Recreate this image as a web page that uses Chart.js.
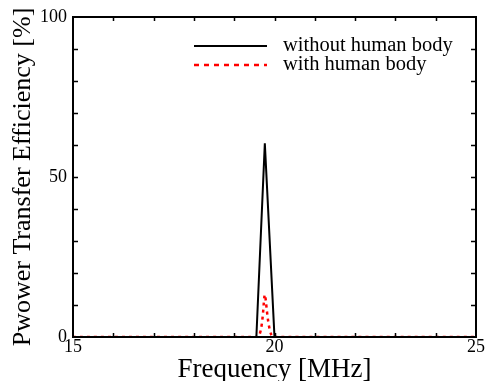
<!DOCTYPE html>
<html>
<head>
<meta charset="utf-8">
<script src="https://cdn.jsdelivr.net/npm/chart.js@4.4.1/dist/chart.umd.min.js"></script>
<style>
html,body{margin:0;padding:0;background:#fff;}
#wrap{width:486px;height:381px;position:relative;}
</style>
</head>
<body>
<div id="wrap"><canvas id="c" width="486" height="381"></canvas></div>
<script>
// Data
const freqWithout = [15, 19.55, 19.76, 20.0, 25];
const effWithout  = [0, 0, 60.5, 0, 0];
const freqWith    = [15, 19.58, 19.76, 19.97, 25];
const effWith     = [0, 0, 13.2, 0, 0];
const seriesLabels = ['without human body', 'with human body'];
const xLabeled = [15, 20, 25];
const yLabeled = [0, 50, 100];

const FONT = '"Liberation Serif", "Times New Roman", serif';

const toPts = (xs, ys) => xs.map((x, i) => ({x: x, y: ys[i]}));

const framePlugin = {
  id: 'frame',
  afterDatasetsDraw(chart) {
    const ctx = chart.ctx, a = chart.chartArea;
    const xs = chart.scales.x, ys = chart.scales.y;
    ctx.save();
    ctx.strokeStyle = '#000';
    ctx.lineWidth = 1.5;
    ctx.beginPath();
    for (let v = 16; v < 25; v++) {
      const px = Math.round(xs.getPixelForValue(v)) + 0.5;
      ctx.moveTo(px, a.bottom); ctx.lineTo(px, a.bottom - 4);
      ctx.moveTo(px, a.top); ctx.lineTo(px, a.top + 4);
    }
    for (let v = 10; v < 100; v += 10) {
      const py = Math.round(ys.getPixelForValue(v)) + 0.5;
      ctx.moveTo(a.left, py); ctx.lineTo(a.left + 5, py);
      ctx.moveTo(a.right, py); ctx.lineTo(a.right - 5, py);
    }
    ctx.stroke();
    ctx.lineWidth = 2;
    ctx.strokeRect(a.left, a.top, a.right - a.left, a.bottom - a.top);
    ctx.restore();
  },
  afterDraw(chart) {
    // legend inside plot, top right
    const ctx = chart.ctx;
    ctx.save();
    const x0 = 194, x1 = 267, tx = 283;
    const rows = [46, 65];
    chart.data.datasets.forEach((ds, i) => {
      ctx.strokeStyle = ds.borderColor;
      ctx.lineWidth = ds.borderWidth;
      ctx.setLineDash(i === 1 ? [5, 5] : []);
      ctx.beginPath();
      ctx.moveTo(x0, rows[i]); ctx.lineTo(x1, rows[i]);
      ctx.stroke();
      ctx.setLineDash([]);
      ctx.fillStyle = '#000';
      ctx.font = '20.5px ' + FONT;
      ctx.textBaseline = 'middle';
      ctx.fillText(ds.label, tx, rows[i]);
    });
    ctx.restore();
  }
};

new Chart(document.getElementById('c'), {
  type: 'line',
  data: {
    datasets: [
      {
        label: seriesLabels[0],
        data: toPts(freqWithout, effWithout),
        borderColor: '#000',
        borderWidth: 2,
        pointRadius: 0,
        tension: 0,
        fill: false
      },
      {
        label: seriesLabels[1],
        data: toPts(freqWith, effWith),
        borderColor: '#ff0000',
        borderWidth: 2.5,
        borderDash: [3, 4],
        pointRadius: 0,
        tension: 0.15,
        fill: false
      }
    ]
  },
  options: {
    responsive: false,
    animation: false,
    layout: {padding: {top: 17, right: 10, left: 0, bottom: 0}},
    plugins: {legend: {display: false}, tooltip: {enabled: false}},
    scales: {
      x: {
        type: 'linear',
        min: 15, max: 25,
        afterFit: s => { s.height = 44; },
        grid: {display: false, drawTicks: false},
        border: {display: false},
        ticks: {
          stepSize: 1, autoSkip: false, maxRotation: 0, padding: -1,
          color: '#000', font: {family: FONT, size: 18},
          callback: v => xLabeled.includes(v) ? String(v) : ''
        },
        title: {display: true, text: 'Frequency [MHz]', color: '#000',
          font: {family: FONT, size: 27}, padding: {top: -5, bottom: -5}}
      },
      y: {
        min: 0, max: 100,
        afterFit: s => { s.width = 73; },
        grid: {display: false, drawTicks: false},
        border: {display: false},
        ticks: {
          stepSize: 10, autoSkip: false, padding: 6,
          color: '#000', font: {family: FONT, size: 18},
          callback: v => yLabeled.includes(v) ? String(v) : ''
        },
        title: {display: true, text: 'Pwower Transfer Efficiency [%]', color: '#000',
          font: {family: FONT, size: 26}, padding: {top: 8, bottom: 0}}
      }
    }
  },
  plugins: [framePlugin]
});
</script>
</body>
</html>
